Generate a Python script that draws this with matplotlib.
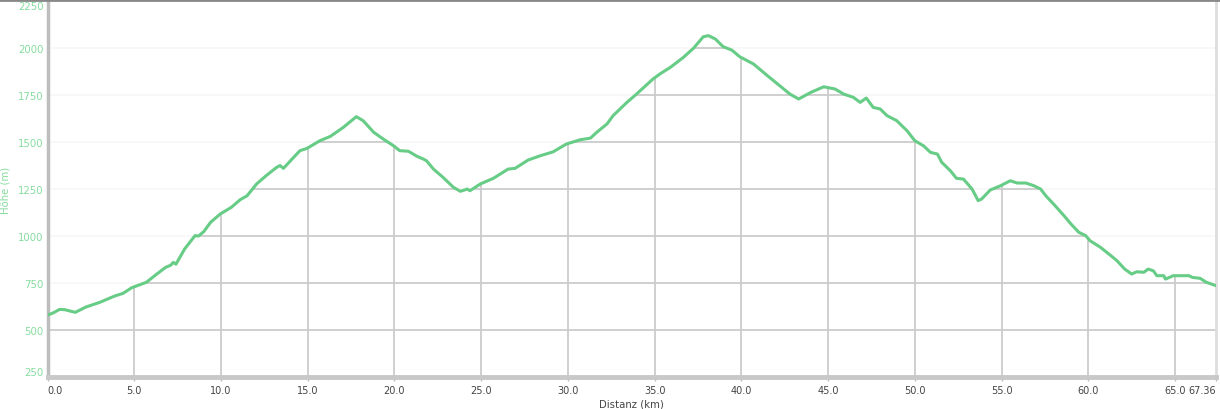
import matplotlib
matplotlib.use('Agg')
import matplotlib.pyplot as plt
import numpy as np

# Elevation profile (distance in km, elevation in m)
distanz = [0.0, 0.3, 0.7, 1.0, 1.6, 2.2, 3.0, 3.9, 4.35, 4.85, 5.7, 6.3, 6.8, 7.1, 7.25, 7.4,
           7.9, 8.5, 8.7, 9.0, 9.4, 9.95, 10.6, 11.1, 11.5, 12.05, 12.6, 13.2, 13.4, 13.6,
           14.1, 14.55, 14.95, 15.7, 16.3, 17.05, 17.8, 18.2, 18.8, 19.35, 19.95, 20.3,
           20.8, 21.3, 21.65, 21.85, 22.25, 22.8, 23.4, 23.8, 24.2, 24.35, 24.95, 25.7,
           26.55, 26.95, 27.7, 28.4, 29.15, 29.9, 30.7, 31.3, 31.65, 32.25, 32.6, 33.4,
           33.95, 34.9, 35.3, 35.9, 36.65, 37.25, 37.8, 38.1, 38.5, 38.95, 39.45, 39.9,
           40.7, 41.5, 42.2, 42.8, 43.3, 44.0, 44.45, 44.75, 45.4, 45.9, 46.45, 46.85,
           47.2, 47.6, 48.0, 48.4, 48.95, 49.55, 50.0, 50.5, 50.9, 51.3, 51.55, 52.05,
           52.4, 52.8, 53.3, 53.65, 53.85, 54.35, 54.95, 55.5, 55.9, 56.4, 56.85, 57.25,
           57.55, 58.0, 58.6, 59.0, 59.45, 59.85, 60.1, 60.7, 61.35, 61.65, 62.1, 62.5,
           62.8, 63.2, 63.45, 63.75, 63.95, 64.35, 64.45, 64.9, 65.8, 66.0, 66.45, 66.8,
           67.36]
hoehe = [580, 590, 610, 608, 594, 622, 647, 682, 695, 725, 754, 798, 833, 845, 860, 850,
         931, 1002, 1000, 1023, 1073, 1117, 1153, 1193, 1214, 1277, 1321, 1365, 1375, 1360,
         1410, 1454, 1466, 1507, 1530, 1578, 1635, 1613, 1552, 1516, 1480, 1454,
         1451, 1424, 1410, 1400, 1356, 1312, 1259, 1238, 1250, 1241, 1277, 1307,
         1356, 1360, 1404, 1427, 1448, 1489, 1512, 1521, 1551, 1596, 1640, 1711,
         1755, 1835, 1862, 1897, 1950, 2000, 2060, 2066, 2048, 2007, 1989, 1954,
         1915, 1853, 1800, 1755, 1729, 1764, 1782, 1794, 1782, 1755, 1738, 1711,
         1734, 1684, 1676, 1640, 1614, 1560, 1507, 1480, 1445, 1436, 1392, 1347,
         1307, 1303, 1250, 1188, 1197, 1245, 1268, 1294, 1282, 1282, 1268, 1250,
         1214, 1170, 1108, 1064, 1020, 1002, 975, 940, 892, 869, 824, 798,
         810, 807, 824, 815, 789, 789, 771, 789, 789, 780, 775, 754,
         736]

x_ticks = [0, 5, 10, 15, 20, 25, 30, 35, 40, 45, 50, 55, 60, 65, 67.36]
x_labels = ['0.0', '5.0', '10.0', '15.0', '20.0', '25.0', '30.0', '35.0', '40.0',
            '45.0', '50.0', '55.0', '60.0', '65.0', '67.36']
y_ticks = [250, 500, 750, 1000, 1250, 1500, 1750, 2000, 2250]

line_col = '#66cc86'
label_green = '#86dc9e'
grid_col = '#cbcbcb'

fig = plt.figure(figsize=(12.2, 4.1), dpi=100)
ax = fig.add_axes([0.039, 0.078, 0.9577, 0.917])

x = np.array(distanz)
y = np.array(hoehe)
ymin, ymax = 250, 2250

# horizontal grid, faded above the curve by a white overlay
for yt in y_ticks[1:-1]:
    ax.axhline(yt, color=grid_col, lw=1.3, zorder=1)
ax.fill_between(x, y, ymax, color='white', alpha=0.86, lw=0, zorder=2)

# vertical grid only under the curve
for xt in x_ticks[1:-1]:
    ax.vlines(xt, ymin, np.interp(xt, x, y), color=grid_col, lw=1.3, zorder=1)

ax.plot(x, y, color=line_col, lw=2.2, zorder=3, solid_joinstyle='round')

ax.set_xlim(0, 67.36)
ax.set_ylim(ymin, ymax)
ax.set_xticks(x_ticks)
ax.set_xticklabels(x_labels)
ax.set_yticks(y_ticks)
ax.tick_params(axis='x', colors='#444444', labelsize=7.0, length=3, width=1, pad=3)
ax.tick_params(axis='x', color='#bbbbbb')
ax.tick_params(axis='y', labelcolor=label_green, labelsize=7.3, length=0, pad=3)

xlabs = ax.get_xticklabels()
xlabs[0].set_ha('left')
xlabs[-1].set_ha('right')
ylabs = ax.get_yticklabels()
ylabs[0].set_va('bottom')
ylabs[-1].set_va('top')

ax.spines['top'].set_visible(False)
ax.spines['left'].set_color('#bdbdbd')
ax.spines['left'].set_linewidth(2.5)
ax.spines['bottom'].set_color('#c8c8c8')
ax.spines['bottom'].set_linewidth(3.5)
ax.spines['right'].set_color('#dddddd')
ax.spines['right'].set_linewidth(2)

ax.set_xlabel('Distanz (km)', color='#444444', fontsize=7.3, labelpad=2)
ax.set_ylabel('Höhe (m)', color=label_green, fontsize=7.3)
ax.yaxis.set_label_coords(-0.032, 0.5)

# dark border along the top edge of the figure
fig.add_artist(plt.Line2D([0, 1], [0.998, 0.998], color='#888888', lw=2,
                          transform=fig.transFigure))

fig.savefig('out.png', dpi=100, facecolor='white')
